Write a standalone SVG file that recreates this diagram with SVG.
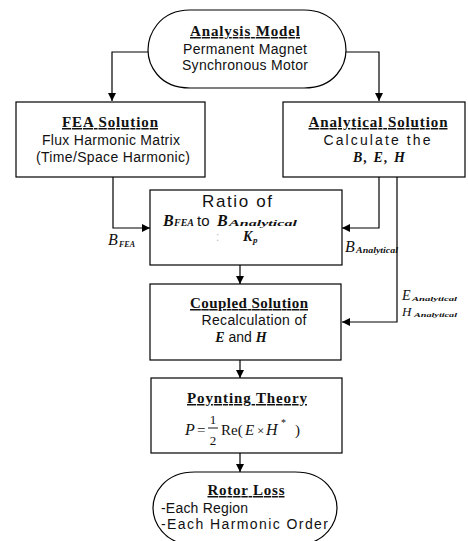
<svg xmlns="http://www.w3.org/2000/svg" width="468" height="541" viewBox="0 0 468 541">
<style>
.box{fill:#fff;stroke:#000;stroke-width:1.2}
.title{font-family:"Liberation Serif",serif;font-weight:bold;font-size:15px;text-decoration:underline;text-anchor:middle;fill:#111}
.body{font-family:"Liberation Sans",Arial,sans-serif;font-size:14px;text-anchor:middle;fill:#111}
.lt{text-anchor:start}
.mb{font-family:"Liberation Serif",serif;font-weight:bold;font-style:italic;fill:#111}
.mi{font-family:"Liberation Serif",serif;font-style:italic;fill:#111}
.mr{font-family:"Liberation Serif",serif;fill:#111}
.conn{fill:none;stroke:#000;stroke-width:1.2}
</style>
<defs>
<marker id="arr" viewBox="0 0 10 10" refX="10" refY="5" markerWidth="8" markerHeight="8" markerUnits="userSpaceOnUse" orient="auto">
<path d="M0,0 L10,5 L0,10 Z" fill="#000"/>
</marker>
</defs>
<rect width="468" height="541" fill="#fff"/>

<g id="connectors">
<path class="conn" d="M148,52 H112 V101" marker-end="url(#arr)"/>
<path class="conn" d="M346,52 H379 V101" marker-end="url(#arr)"/>
<path class="conn" d="M113,177 V228 H150" marker-end="url(#arr)"/>
<path class="conn" d="M379,177 V228 H342" marker-end="url(#arr)"/>
<path class="conn" d="M397,177 V322 H342" marker-end="url(#arr)"/>
<path class="conn" d="M240,265 V284" marker-end="url(#arr)"/>
<path class="conn" d="M240,360 V378" marker-end="url(#arr)"/>
<path class="conn" d="M240,453 V472" marker-end="url(#arr)"/>
<text class="mi" x="108" y="245" font-size="16">B</text>
<text class="mb" x="119" y="247" font-size="8">FEA</text>
<text class="mi" x="345" y="252" font-size="16">B</text>
<text class="mb" x="356" y="253" font-size="8" textLength="42" lengthAdjust="spacingAndGlyphs">Analytical</text>
<text class="mi" x="402" y="300" font-size="14">E</text>
<text class="mb" x="412" y="301" font-size="7" textLength="45" lengthAdjust="spacingAndGlyphs">Analytical</text>
<text class="mi" x="402" y="316" font-size="13">H</text>
<text class="mb" x="414" y="317" font-size="7" textLength="43" lengthAdjust="spacingAndGlyphs">Analytical</text>
</g>

<g id="analysis-model">
<path class="box" d="M190,10 H304 C336,10 346,36 346,50 C346,64 336,88 304,88 H190 C158,88 148,64 148,50 C148,36 158,10 190,10 Z"/>
<text class="title" x="245" y="36" textLength="110" lengthAdjust="spacing">Analysis Model</text>
<text class="body" x="245" y="54" textLength="124" lengthAdjust="spacing">Permanent Magnet</text>
<text class="body" x="245" y="70" textLength="126" lengthAdjust="spacing">Synchronous Motor</text>
</g>

<g id="fea-solution">
<rect class="box" x="16" y="102" width="189" height="75"/>
<text class="title" x="110" y="127" textLength="96" lengthAdjust="spacing">FEA Solution</text>
<text class="body" x="111" y="145" textLength="138" lengthAdjust="spacing">Flux Harmonic Matrix</text>
<text class="body" x="113" y="162" textLength="154" lengthAdjust="spacing">(Time/Space Harmonic)</text>
</g>

<g id="analytical-solution">
<rect class="box" x="283" y="102" width="182" height="75"/>
<text class="title" x="378" y="127" textLength="139" lengthAdjust="spacing">Analytical Solution</text>
<text class="body" x="377" y="145" textLength="107" lengthAdjust="spacing">Calculate the</text>
<text class="mb" x="379" y="162" font-size="14" text-anchor="middle" textLength="52" lengthAdjust="spacing">B, E, H</text>
</g>

<g id="ratio">
<rect class="box" x="150" y="190" width="192" height="75"/>
<text class="body" x="237" y="207" style="font-size:17px" textLength="70" lengthAdjust="spacing">Ratio of</text>
<text class="mb" x="163" y="226" font-size="16">B</text>
<text class="mb" x="174" y="226" font-size="10">FEA</text>
<text class="body lt" x="197" y="226" style="font-size:15px">to</text>
<text class="mb" x="217" y="226" font-size="16">B</text>
<text class="mb" x="229" y="226" font-size="9" textLength="68" lengthAdjust="spacingAndGlyphs">Analytical</text>
<text class="body lt" x="216" y="241" style="font-size:12px;fill:#bbb">:</text>
<text class="mb" x="243" y="241" font-size="14">K</text>
<text class="mb" x="253" y="243" font-size="9">p</text>
</g>

<g id="coupled-solution">
<rect class="box" x="150" y="284" width="191" height="76"/>
<text class="title" x="249" y="308" textLength="118" lengthAdjust="spacing">Coupled Solution</text>
<text class="body" x="254" y="325" textLength="105" lengthAdjust="spacing">Recalculation of</text>
<text x="241" y="342" text-anchor="middle"><tspan class="mb" font-size="14">E</tspan><tspan class="body" style="font-size:14px"> and </tspan><tspan class="mb" font-size="14">H</tspan></text>
</g>

<g id="poynting-theory">
<rect class="box" x="151" y="378" width="191" height="75"/>
<text class="title" x="247" y="403" textLength="120" lengthAdjust="spacing">Poynting Theory</text>
<text class="mi" x="185" y="435" font-size="16">P</text>
<text class="mr" x="197" y="435" font-size="15">=</text>
<text class="mr" x="213" y="424" font-size="13" text-anchor="middle">1</text>
<line x1="208" y1="428" x2="218" y2="428" stroke="#000" stroke-width="0.9"/>
<text class="mr" x="213" y="445" font-size="13" text-anchor="middle">2</text>
<text class="mr" x="221" y="435" font-size="15">Re(</text>
<text class="mi" x="245" y="435" font-size="15">E</text>
<text class="mr" x="257" y="435" font-size="13">×</text>
<text class="mi" x="266" y="435" font-size="16">H</text>
<text class="mr" x="281" y="426" font-size="10">*</text>
<text class="mr" x="295" y="435" font-size="15">)</text>
</g>

<g id="rotor-loss">
<path class="box" d="M195,472 H295 C327,472 337,495 337,508 C337,521 327,545 295,545 H195 C163,545 153,521 153,508 C153,495 163,472 195,472 Z"/>
<text class="title" x="246" y="495" textLength="77" lengthAdjust="spacing">Rotor Loss</text>
<text class="body lt" x="161" y="513" textLength="87" lengthAdjust="spacing">-Each Region</text>
<text class="body lt" x="161" y="529" textLength="167" lengthAdjust="spacing">-Each Harmonic Order</text>
</g>
</svg>
